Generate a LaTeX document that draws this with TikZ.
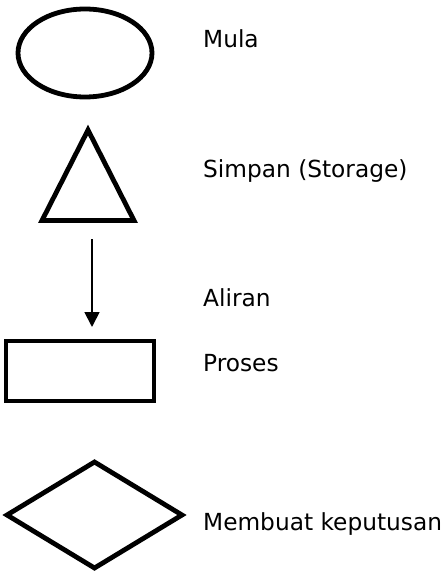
\documentclass[tikz,border=0pt]{standalone}
\usepackage{fontspec}
\setmainfont{DejaVu Sans}[FakeStretch=0.99]
\usetikzlibrary{shapes.geometric,arrows.meta}
\tikzset{
  sym/.style={draw=black, line width=4.8pt, inner sep=0pt, outer sep=0pt},
  lbl/.style={anchor=base west, inner sep=0pt, font=\fontsize{23.5}{28}\selectfont},
}
\begin{document}
\begin{tikzpicture}[x=1pt,y=-1pt]
\useasboundingbox (0,0) rectangle (443,572);
% ellipse
\node[sym, ellipse, minimum width=134pt, minimum height=88pt] (mula) at (85,53) {};
% triangle
\coordinate (tA) at (88,130);
\coordinate (tL) at (42,220.5);
\coordinate (tR) at (134,220.5);
\draw[line width=4.8pt, line join=miter] (tA) -- (tL) -- (tR) -- cycle;
% arrow
\coordinate (aS) at (92,239);
\coordinate (aE) at (92,327);
\draw[line width=1.8pt, -{Triangle[width=15pt,length=15pt]}] (aS) -- (aE);
% rectangle
\node[sym, rectangle, minimum width=148pt, minimum height=60pt] (proses) at (80,371) {};
% diamond
\node[sym, diamond, minimum width=175pt, minimum height=106pt] (kep) at (94.5,515) {};
% labels
\node[lbl] (t1) at (203,48) {Mula};
\node[lbl] (t2) at (203,178) {Simpan (Storage)};
\node[lbl] (t3) at (203,306) {Aliran};
\node[lbl] (t4) at (203,371) {Proses};
\node[lbl] (t5) at (203,530) {Membuat keputusan};
\end{tikzpicture}
\end{document}
